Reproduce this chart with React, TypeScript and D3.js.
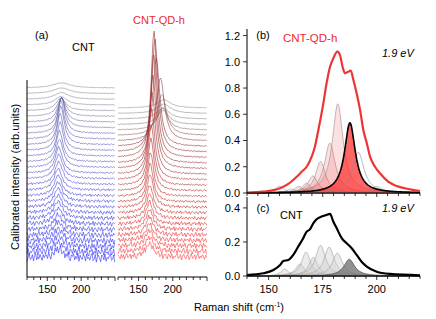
import React from "react";
import * as d3 from "d3";

// ---------------- data ----------------
// measurement noise texture (estimated, hand typed)
const NOISE = [0.3,-0.5,0.8,-0.2,-0.9,0.4,0.1,-0.6,0.7,-0.3,0.5,-0.8,0.2,0.9,-0.4,-0.1,0.6,-0.7,0.3,-0.2,0.8,-0.5,-0.9,0.4,0.1,0.7,-0.6,0.2,-0.3,0.9,-0.8,0.5,-0.1,-0.4,0.6,0.3,-0.7,0.8,-0.2,0.1,-0.5,0.4,0.9,-0.6,-0.3,0.7,-0.9,0.2,0.5,-0.1,-0.8,0.6,0.3,-0.4,0.8,-0.7,0.1,-0.2,0.4,0.9,-0.5,-0.3,0.6,-0.9,0.2,0.7,-0.1,-0.6,0.5,0.3,-0.8,0.1,0.9,-0.4,-0.2,0.6,-0.7,0.4,0.8,-0.5,0.2,-0.3,0.6,0.0,-0.7,0.5,-0.2,0.3];

// Panel (a) CNT stacked spectra (top -> bottom)
const cntCenter = [171,171,171,170,170,171,171,171,171,170,170,169,169,168,168,167,167,167,166,166,166,166,166,166,166,166,166,166,166,166,166];
const cntHeight = [0.9,1.0,1.2,1.5,2.2,3.2,4.3,5.4,6.4,6.8,6.8,6.5,6.0,5.5,5.0,4.6,4.3,4.0,3.8,3.6,3.4,3.3,3.1,3.0,2.8,2.6,2.4,2.2,2.0,1.8,1.6];
const cntWidth = [16,15,13,11,9,8,7,6.5,6,6,6,6,6,6,6.5,6.5,7,7,7,7,7.5,7.5,7.5,8,8,8,8,8,8,8,8];
const cntNoise = [0.05,0.05,0.06,0.06,0.07,0.08,0.08,0.09,0.1,0.1,0.11,0.12,0.13,0.14,0.15,0.17,0.19,0.21,0.24,0.27,0.3,0.34,0.38,0.43,0.48,0.54,0.6,0.66,0.72,0.78,0.85];

// Panel (a) CNT-QD-h stacked spectra (top -> bottom)
const qdCenter = [187,187,186,186,185,184,182,176,174,172.5,172,171,170,169,168.5,168,167.5,167,167,166.5,166.5,166,166,166,166,166,166,166];
const qdHeight = [1.5,1.7,2.0,2.6,4,7.5,11.5,16,20.5,23,20,17,15,13,11,9.5,8,7,6,5,4.5,4,3.6,3.3,3,2.8,2.6,2.4];
const qdWidth = [12,12,11,10,9,8,7,6,5.5,5,5,5.5,5.5,5.5,5.5,5.5,5.5,5.5,6,6,6,6,6.5,6.5,6.5,7,7,7];
const qdNoise = [0.05,0.05,0.06,0.06,0.07,0.08,0.08,0.09,0.1,0.1,0.11,0.12,0.13,0.14,0.16,0.18,0.21,0.24,0.28,0.32,0.36,0.4,0.44,0.48,0.52,0.56,0.6,0.65];

const aTicks = [120,130,140,150,160,170,180,190,200,210,220,230,240,250];
const aLabels = [150, 200];

// Panel (b) CNT-QD-h measured spectrum
const bShift = [140,147.5,155.3,159.1,163,165.3,167.6,169.9,171.4,173,175.3,176.8,178.4,179.9,181.8,183,184.2,185.3,186.8,188,189.2,190.7,192.3,193.8,195.4,196.9,199.2,201.5,205.3,209.2,215.4,220];
const bIntensity = [0.003,0.01,0.036,0.069,0.124,0.162,0.2,0.277,0.353,0.48,0.683,0.836,0.962,1.026,1.077,1.051,0.962,0.912,0.924,0.932,0.861,0.76,0.632,0.48,0.379,0.277,0.2,0.15,0.086,0.053,0.028,0.015];
// fitted components of (b)
const bShadedCenter = [164,167.5,170.5,174,178.3,182];
const bShadedHeight = [0.05,0.075,0.13,0.24,0.38,0.68];
const bShadedWidth = [2.5,2.5,2.8,2.8,3,3];
const bMainCenter = 187.6, bMainHeight = 0.535, bMainWidth = 3;
const bOpenCenter = [155,160.5,191.5,200];
const bOpenHeight = [0.05,0.03,0.31,0.05];
const bOpenWidth = [2.5,2.5,3.2,3];

// Panel (c) CNT measured spectrum
const cShift = [140,147.5,152.2,155.3,156.8,159.1,161.4,163.7,166,167.6,169.1,170.7,172.2,174.5,176.8,178.4,179.9,181.5,183.8,186.1,188.4,190.7,193,195.4,200,206.1,220];
const cIntensity = [0.006,0.016,0.035,0.065,0.088,0.094,0.124,0.173,0.222,0.261,0.274,0.31,0.333,0.349,0.359,0.365,0.32,0.28,0.222,0.192,0.163,0.124,0.084,0.055,0.025,0.012,0.004];
const cShadedCenter = [157.5,164.5,167.3,170.7,174,178,181.8];
const cShadedHeight = [0.04,0.07,0.14,0.11,0.18,0.17,0.135];
const cShadedWidth = [2.2,2.5,2.5,2.5,2.8,2.8,2.8];
const cMainCenter = 187.3, cMainHeight = 0.098, cMainWidth = 3;

const bYTicks = [0,0.2,0.4,0.6,0.8,1.0,1.2];
const cYTicks = [0,0.2,0.4];
const bcXTicks = d3.range(140, 220.01, 5);
const bcXLabels = [150,175,200];

// ---------------- helpers ----------------
const lorentz = (x: number, c: number, h: number, g: number) => h / (1 + ((x - c) / g) ** 2);
const FONT = "'Liberation Sans', Arial, Helvetica, sans-serif";

export default function App() {
  // panel (a)
  const xA1 = d3.scaleLinear().domain([120, 250]).range([27, 115]);
  const xA2 = d3.scaleLinear().domain([120, 250]).range([118, 207]);
  const yA1 = d3.scaleLinear().domain([0, cntCenter.length - 1]).range([258, 88]);
  const yA2 = d3.scaleLinear().domain([0, qdCenter.length - 1]).range([257, 108]);
  const gridA = d3.range(120, 250.001, 1.6);
  const cntColor = d3.scaleLinear<string>().domain([0, 3, 8, 18, 30]).range(["#909090", "#84849c", "#5c5caa", "#4848d4", "#2c2cff"]);
  const qdColor = d3.scaleLinear<string>().domain([0, 4, 7, 14, 21, 27]).range(["#909090", "#8a7474", "#8b3030", "#b02626", "#e62c2c", "#ff4040"]);

  const traces = (center: number[], height: number[], width: number[], noise: number[], shift: number) =>
    center.map((c, j) => {
      const level = center.length - 1 - j;
      return gridA.map((x, k) => [x, level + lorentz(x, c, height[j], width[j]) + noise[j] * NOISE[(k + j * shift) % NOISE.length]] as [number, number]);
    });
  const cntTraces = traces(cntCenter, cntHeight, cntWidth, cntNoise, 17);
  const qdTraces = traces(qdCenter, qdHeight, qdWidth, qdNoise, 23);
  const lineA1 = d3.line<[number, number]>().x(d => xA1(d[0])).y(d => yA1(d[1]));
  const lineA2 = d3.line<[number, number]>().x(d => xA2(d[0])).y(d => yA2(d[1]));

  // panels (b), (c)
  const xB = d3.scaleLinear().domain([140, 220]).range([247, 420]);
  const yB = d3.scaleLinear().domain([0, 1.25]).range([193, 29]);
  const yC = d3.scaleLinear().domain([0, 0.47]).range([276, 196]);
  const gridB = d3.range(140, 220.001, 0.25);
  const compArea = (ys: d3.ScaleLinear<number, number>, c: number, h: number, g: number) =>
    d3.area<number>().x(x => xB(x)).y0(ys(0)).y1(x => ys(lorentz(x, c, h, g)))(gridB) || "";
  const compLine = (ys: d3.ScaleLinear<number, number>, c: number, h: number, g: number) =>
    d3.line<number>().x(x => xB(x)).y(x => ys(lorentz(x, c, h, g)))(gridB) || "";
  const measB = d3.line<number>().x((_, i) => xB(bShift[i])).y(v => yB(v)).curve(d3.curveMonotoneX)(bIntensity) || "";
  const measC = d3.line<number>().x((_, i) => xB(cShift[i])).y(v => yC(v)).curve(d3.curveMonotoneX)(cIntensity) || "";

  const xAxisA = (xs: d3.ScaleLinear<number, number>, y: number) => (
    <g>
      <line x1={xs(120)} x2={xs(250)} y1={y} y2={y} stroke="#000" strokeWidth={1} />
      {aTicks.map(t => (
        <line key={t} x1={xs(t)} x2={xs(t)} y1={y} y2={y + (t % 50 === 0 ? 4 : 3)} stroke="#000" strokeWidth={0.8} />
      ))}
      {aLabels.map(t => (
        <text key={t} x={xs(t)} y={y + 16} textAnchor="middle" fontSize={11}>{t}</text>
      ))}
    </g>
  );

  const xAxisBC = (y: number, labels: boolean) => (
    <g>
      <line x1={xB(140)} x2={xB(220)} y1={y} y2={y} stroke="#000" strokeWidth={1} />
      {bcXTicks.map(t => (
        <line key={t} x1={xB(t)} x2={xB(t)} y1={y} y2={y + (t % 25 === 0 ? 4 : 3)} stroke="#000" strokeWidth={0.8} />
      ))}
      {labels && bcXLabels.map(t => (
        <text key={t} x={xB(t)} y={y + 17} textAnchor="middle" fontSize={11}>{t}</text>
      ))}
    </g>
  );

  const yAxis = (ys: d3.ScaleLinear<number, number>, ticks: number[], top: number) => (
    <g>
      <line x1={247} x2={247} y1={ys(0)} y2={top} stroke="#000" strokeWidth={1} />
      {ticks.map(t => (
        <g key={t}>
          <line x1={243} x2={247} y1={ys(t)} y2={ys(t)} stroke="#000" strokeWidth={0.8} />
          <text x={240} y={ys(t)} dy="0.36em" textAnchor="end" fontSize={11}>{t.toFixed(1)}</text>
        </g>
      ))}
    </g>
  );

  return (
    <svg width={436} height={319} style={{ position: "absolute", left: 0, top: 0, display: "block", background: "#fff" }} fontFamily={FONT}>
      {/* ---- panel (a) ---- */}
      <g fill="none" strokeWidth={0.6}>
        {cntTraces.map((t, j) => (
          <path key={"c" + j} d={lineA1(t) || ""} stroke={cntColor(j)} />
        ))}
        {qdTraces.map((t, j) => (
          <path key={"q" + j} d={lineA2(t) || ""} stroke={qdColor(j)} />
        ))}
      </g>
      <line x1={27} x2={27} y1={80} y2={277} stroke="#000" strokeWidth={1} />
      {xAxisA(xA1, 277)}
      {xAxisA(xA2, 277)}
      <text x={35} y={39} fontSize={11}>(a)</text>
      <text x={72} y={51} fontSize={11}>CNT</text>
      <text x={159} y={24} fontSize={11} fill="#ee2a2a" textAnchor="middle">CNT-QD-h</text>
      <text transform="translate(19,177) rotate(-90)" textAnchor="middle" fontSize={11}>Calibrated intensity (arb.units)</text>

      {/* ---- panel (b) ---- */}
      {bShadedCenter.map((c, i) => (
        <path key={"bs" + i} d={compArea(yB, c, bShadedHeight[i], bShadedWidth[i])} fill="rgba(235,70,70,0.16)" stroke="#9a8a8a" strokeWidth={0.6} />
      ))}
      <path d={compArea(yB, bMainCenter, bMainHeight, bMainWidth)} fill="rgba(255,45,45,0.72)" stroke="none" />
      {bOpenCenter.map((c, i) => (
        <path key={"bo" + i} d={compLine(yB, c, bOpenHeight[i], bOpenWidth[i])} fill="none" stroke="#8a8a8a" strokeWidth={0.6} />
      ))}
      <path d={compLine(yB, bMainCenter, bMainHeight, bMainWidth)} fill="none" stroke="#000" strokeWidth={1.6} />
      <path d={measB} fill="none" stroke="#ee3535" strokeWidth={2.2} />
      {yAxis(yB, bYTicks, 29)}
      {xAxisBC(193, false)}
      <text x={263} y={39} fontSize={11} textAnchor="middle">(b)</text>
      <text x={283} y={42} fontSize={11.5} fill="#ee2a2a">CNT-QD-h</text>
      <text x={382} y={57} fontSize={11} fontStyle="italic">1.9 eV</text>

      {/* ---- panel (c) ---- */}
      {cShadedCenter.map((c, i) => (
        <path key={"cs" + i} d={compArea(yC, c, cShadedHeight[i], cShadedWidth[i])} fill="rgba(205,205,205,0.4)" stroke="#9c9c9c" strokeWidth={0.6} />
      ))}
      <path d={compArea(yC, cMainCenter, cMainHeight, cMainWidth)} fill="rgba(115,115,115,0.78)" stroke="#444" strokeWidth={0.7} />
      <path d={measC} fill="none" stroke="#000" strokeWidth={2.2} />
      {yAxis(yC, cYTicks, 197)}
      {xAxisBC(276, true)}
      <text x={263} y={212} fontSize={11} textAnchor="middle">(c)</text>
      <text x={280} y={219} fontSize={11}>CNT</text>
      <text x={382} y={212} fontSize={11} fontStyle="italic">1.9 eV</text>

      <text x={239} y={311} fontSize={11} textAnchor="middle">
        Raman shift (cm<tspan dy={-4} fontSize={7}>-1</tspan><tspan dy={4}>)</tspan>
      </text>
    </svg>
  );
}
